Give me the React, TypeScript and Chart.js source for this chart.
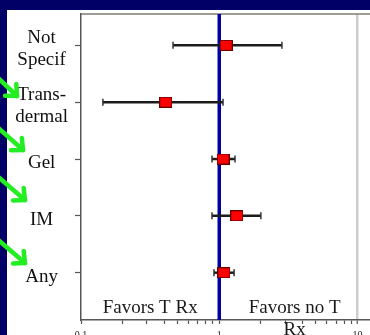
import React, { useEffect, useRef } from 'react';
import { Chart, registerables } from 'chart.js';

Chart.register(...registerables);

// ---- data ----
const categories = ['Not Specif', 'Trans-dermal', 'Gel', 'IM', 'Any'];
const categoryLabelLines = [['Not', 'Specif'], ['Trans-', 'dermal'], ['Gel'], ['IM'], ['Any']];
const estimates = [1.12, 0.41, 1.065, 1.34, 1.08];
const lowerCI = [0.463, 0.144, 0.886, 0.886, 0.916];
const upperCI = [2.84, 1.065, 1.3, 2.0, 1.28];
const xTickValues = [0.1, 0.2, 0.3, 0.4, 0.5, 0.6, 0.7, 0.8, 0.9, 1, 2, 3, 4, 5, 6, 7, 8, 9, 10];
const majorTicks = [0.1, 1, 10];
const majorTickLabels = ['0.1', '1', '10'];
const leftNote = 'Favors T Rx';
const rightNoteLines = ['Favors no T', 'Rx'];

const SERIF = '"Liberation Serif", "Times New Roman", serif';
const NAVY = '#000066';
const GREEN = '#22ee22';

const yOf = (i: number) => categories.length - i;

function makeMarker(): HTMLCanvasElement {
  const c = document.createElement('canvas');
  c.width = 13;
  c.height = 11;
  const g = c.getContext('2d')!;
  g.fillStyle = '#6a0000';
  g.fillRect(0, 0, 13, 11);
  g.fillStyle = '#ff0000';
  g.fillRect(1, 1, 11, 9);
  return c;
}

const decorPlugin = {
  id: 'decor',
  beforeDraw(chart: any) {
    const { ctx, width, height } = chart;
    ctx.save();
    ctx.fillStyle = NAVY;
    ctx.fillRect(0, 0, width, height);
    ctx.fillStyle = '#ffffff';
    ctx.fillRect(7, 10, width - 7, height - 10);
    ctx.restore();
  },
  beforeDatasetsDraw(chart: any) {
    const { ctx, chartArea } = chart;
    const xs = chart.scales.x;
    ctx.save();
    // top border
    ctx.strokeStyle = '#7d7d72';
    ctx.lineWidth = 1.5;
    ctx.beginPath();
    ctx.moveTo(chartArea.left, chartArea.top);
    ctx.lineTo(chartArea.right, chartArea.top);
    ctx.stroke();
    // line of no effect
    const x1 = xs.getPixelForValue(1);
    ctx.strokeStyle = '#0000a0';
    ctx.lineWidth = 3.5;
    ctx.beginPath();
    ctx.moveTo(x1, chartArea.top);
    ctx.lineTo(x1, chartArea.bottom);
    ctx.stroke();
    ctx.restore();
  },
  afterDraw(chart: any) {
    const { ctx, chartArea } = chart;
    const xs = chart.scales.x;
    const x1 = xs.getPixelForValue(1);
    ctx.save();
    ctx.fillStyle = '#1a1a1a';
    ctx.font = `19px ${SERIF}`;
    ctx.textAlign = 'center';
    ctx.textBaseline = 'alphabetic';
    const base = chartArea.bottom - 7;
    ctx.fillText(leftNote, (chartArea.left + x1) / 2, base);
    rightNoteLines.forEach((t, k) => {
      ctx.fillText(t, (x1 + chartArea.right) / 2, base + k * 22);
    });
    // green arrows (decoration)
    const arrows = [
      [-4, 76, 17, 96],
      [-4, 126, 23, 150],
      [-4, 175, 25, 200],
      [-4, 238, 25, 263],
    ];
    ctx.strokeStyle = GREEN;
    ctx.lineWidth = 4.5;
    ctx.lineCap = 'round';
    ctx.lineJoin = 'round';
    arrows.forEach(([sx, sy, tx, ty]) => {
      const ang = Math.atan2(ty - sy, tx - sx);
      const L = 12;
      ctx.beginPath();
      ctx.moveTo(sx, sy);
      ctx.lineTo(tx, ty);
      ctx.stroke();
      ctx.beginPath();
      ctx.moveTo(tx + L * Math.cos(ang + Math.PI - 0.75), ty + L * Math.sin(ang + Math.PI - 0.75));
      ctx.lineTo(tx, ty);
      ctx.lineTo(tx + L * Math.cos(ang + Math.PI + 0.75), ty + L * Math.sin(ang + Math.PI + 0.75));
      ctx.stroke();
    });
    ctx.restore();
  },
};

export default function App() {
  const ref = useRef<HTMLCanvasElement>(null);
  useEffect(() => {
    document.body.style.margin = '0';
    const marker = makeMarker();
    const datasets: any[] = [
      {
        label: 'Estimate',
        data: estimates.map((v, i) => ({ x: v, y: yOf(i) })),
        pointStyle: marker,
        pointRadius: 6,
        pointHoverRadius: 6,
        showLine: false,
      },
      ...categories.map((c, i) => ({
        label: c + ' CI',
        data: [
          { x: lowerCI[i], y: yOf(i) },
          { x: upperCI[i], y: yOf(i) },
        ],
        showLine: true,
        borderColor: '#1c1c1c',
        borderWidth: 2.5,
        pointStyle: 'line',
        rotation: 90,
        pointRadius: 3.5,
        pointHoverRadius: 3.5,
        pointBorderWidth: 1.5,
        pointBorderColor: '#333333',
        pointBackgroundColor: '#333333',
      })),
    ];
    const chart = new Chart(ref.current!, {
      type: 'scatter',
      data: { datasets },
      plugins: [decorPlugin],
      options: {
        responsive: false,
        animation: false,
        devicePixelRatio: 1,
        layout: { autoPadding: false, padding: { top: 14, left: 0, right: 0, bottom: 0 } },
        plugins: { legend: { display: false }, tooltip: { enabled: false } },
        scales: {
          x: {
            type: 'logarithmic',
            min: 0.1,
            max: 12.31,
            afterBuildTicks: (s: any) => {
              s.ticks = xTickValues.map((v) => ({ value: v, major: majorTicks.includes(v) }));
            },
            afterFit: (s: any) => {
              s.height = 15;
              s.paddingLeft = 0;
              s.paddingRight = 0;
            },
            ticks: {
              autoSkip: false,
              maxRotation: 0,
              minRotation: 0,
              padding: 5,
              color: '#222',
              font: { family: SERIF, size: 10 },
              callback: (v: any) => {
                const k = majorTicks.indexOf(Number(v));
                return k >= 0 ? majorTickLabels[k] : '';
              },
            },
            grid: {
              color: (ctx: any) => (ctx.tick && ctx.tick.value === 10 ? '#cdcdcd' : 'rgba(0,0,0,0)'),
              lineWidth: (ctx: any) => (ctx.tick && ctx.tick.value === 10 ? 2.5 : 1),
              drawTicks: true,
              tickLength: 4,
              tickColor: '#555555',
              tickWidth: 1.2,
            },
            border: { color: '#555555', width: 1.5 },
          },
          y: {
            type: 'linear',
            min: 0.168,
            max: 5.551,
            afterBuildTicks: (s: any) => {
              s.ticks = categories.map((_, i) => ({ value: yOf(i) }));
            },
            afterFit: (s: any) => {
              s.width = 81;
              s.paddingTop = 0;
              s.paddingBottom = 0;
            },
            ticks: {
              autoSkip: false,
              crossAlign: 'center',
              padding: 7,
              labelOffset: 4,
              color: '#111111',
              font: { family: SERIF, size: 19, lineHeight: 1.16 },
              callback: (v: any) => {
                const i = categories.length - Number(v);
                return categoryLabelLines[i] || '';
              },
            },
            grid: {
              drawOnChartArea: false,
              drawTicks: true,
              tickLength: 6,
              tickColor: '#555555',
              tickWidth: 1.2,
            },
            border: { color: '#555555', width: 1.5 },
          },
        },
      } as any,
    });
    return () => chart.destroy();
  }, []);
  return <canvas ref={ref} width={370} height={335} style={{ display: 'block', width: 370, height: 335 }} />;
}
